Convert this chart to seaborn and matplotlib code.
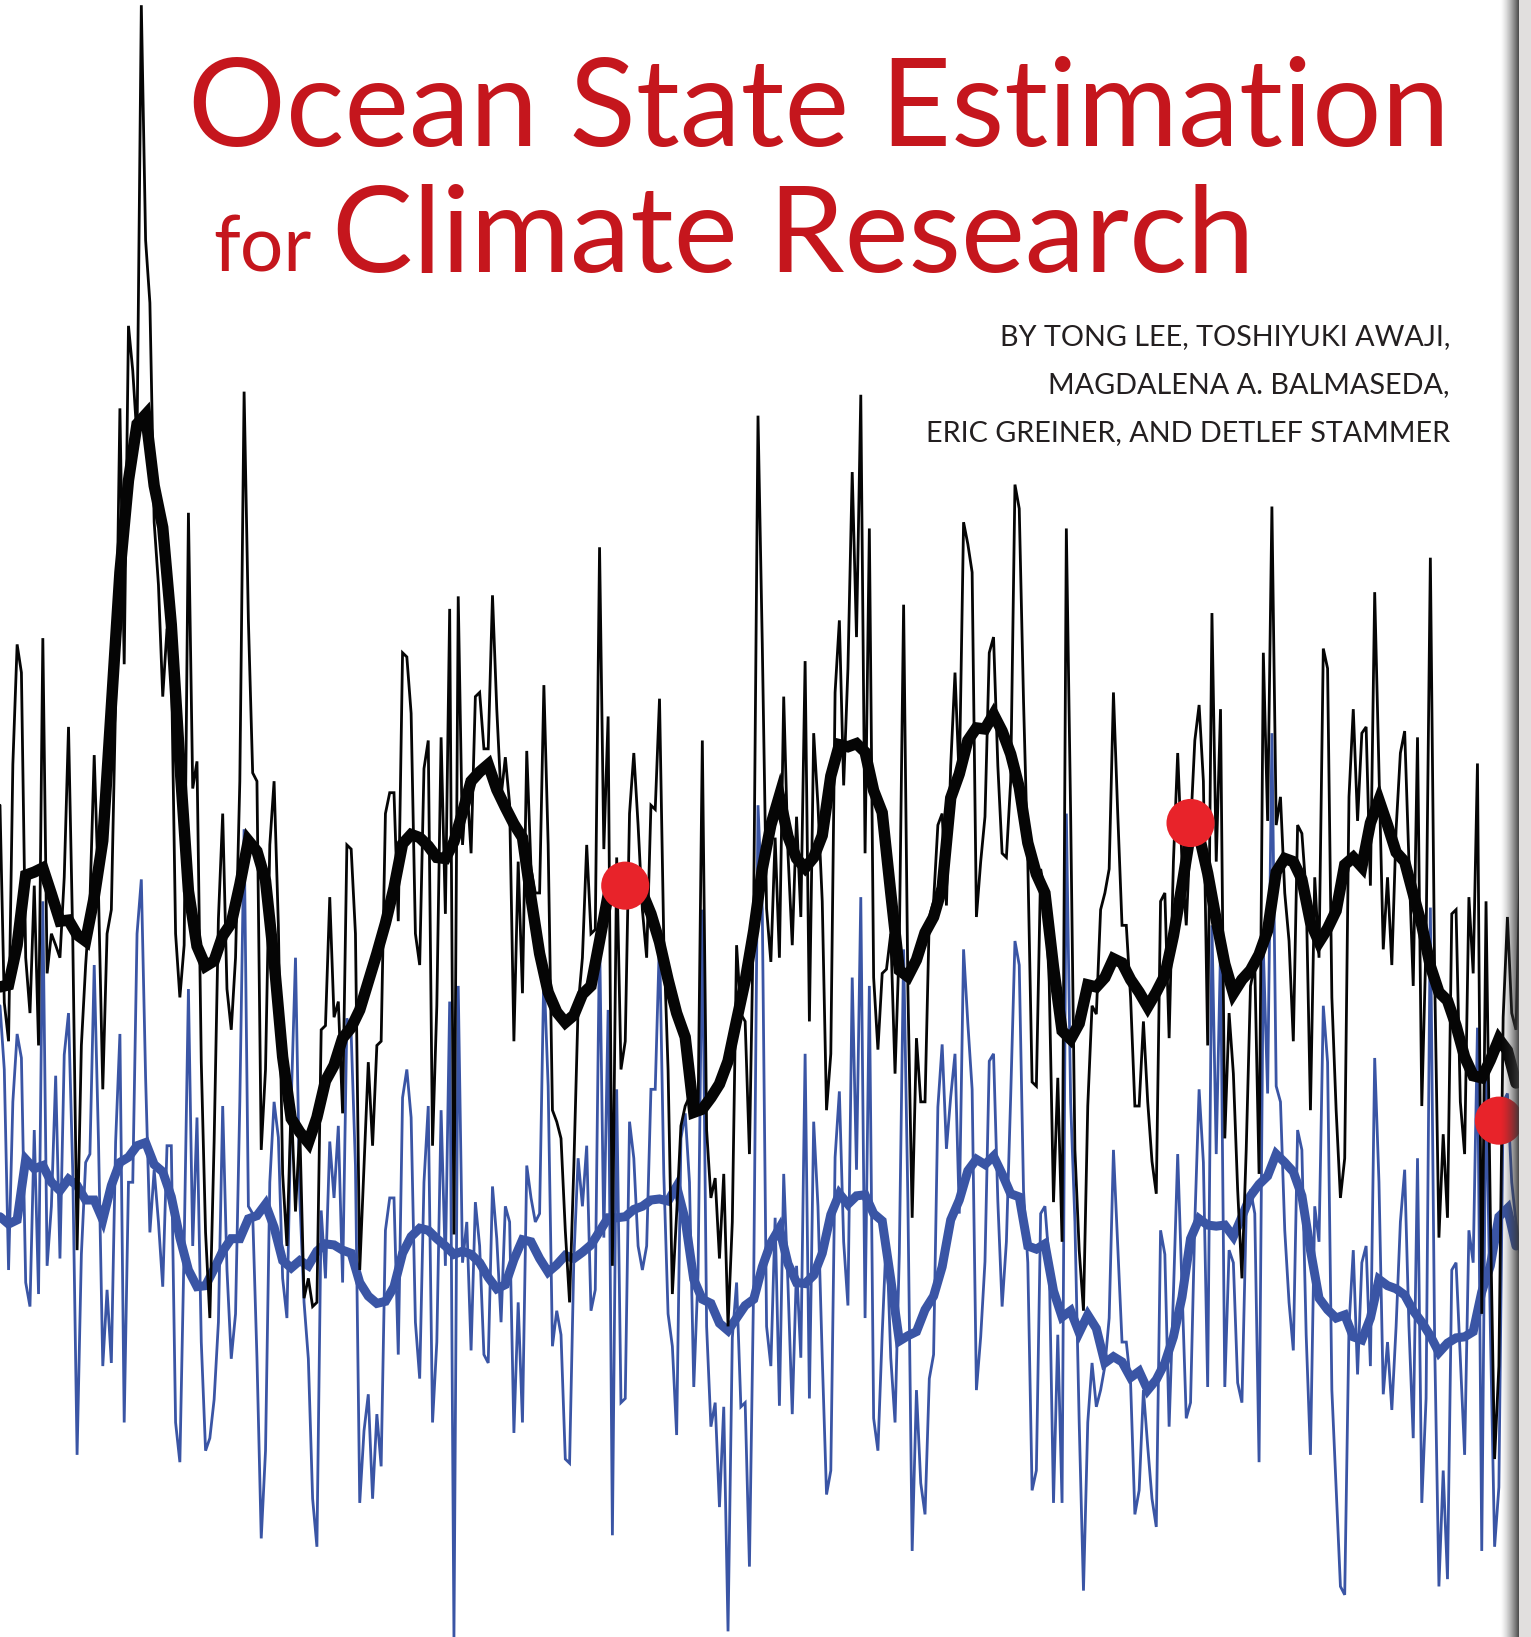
import numpy as np
import pandas as pd
import matplotlib
matplotlib.use("Agg")
import matplotlib.pyplot as plt
import seaborn as sns

# ---------------- data (monthly anomalies, arbitrary units) ----------------
thin_black = [
    229, 40, 3, 268, 383, 356, 83, 30, 152, -1,
    389, 68, 106, 95, 83, 160, 304, 99, -197, -1,
    76, 137, 277, 145, -43, 106, 129, 329, 609, 364,
    688, 645, 580, 995, 770, 710, 500, 440, 333, 398,
    370, 106, 45, 95, 509, 245, 271, -17, -180, -262,
    -93, 120, 221, 53, 14, 83, 252, 625, 406, 260,
    252, -101, -24, 191, 252, 114, -124, -193, -55, -160,
    -80, -243, -224, -251, -247, 14, 18, 141, 26, 41,
    -66, 191, 187, 106, -216, -116, -17, -97, -1, 3,
    221, 241, 241, 118, 375, 371, 317, 106, 76, 264,
    291, -97, 37, 294, 125, 417, -182, 429, 191, 252,
    183, 333, 337, 283, 283, 430, 321, 237, 275, 230,
    3, 175, 49, 281, 168, 145, 145, 344, 191, -63,
    -74, -90, -178, -247, -116, 37, 83, 191, 106, 110,
    476, 187, 314, -212, 179, -24, 3, 221, 279, 210,
    129, 83, 229, 225, 331, 99, -24, -239, -162, -78,
    -59, -50, -43, -66, 291, -82, -147, -128, -205, -124,
    -270, -170, 95, 29, 22, -105, 137, 602, 383, 130,
    79, 198, 83, 333, 183, 95, 218, 122, 367, 22,
    298, 229, 137, -63, -9, 337, 406, 248, 360, 548,
    390, 622, 183, 494, 64, -5, 68, 72, 106, -28,
    99, 421, 53, -166, 6, -55, -55, 122, 137, 210,
    221, 133, 267, 356, 252, 500, 479, 452, 122, 175,
    218, 375, 390, 267, 183, 179, 252, 536, 513, 329,
    175, -36, -40, 168, 145, 60, -151, -32, -189, 494,
    221, -101, -197, -255, -59, 37, 29, 129, 145, 168,
    337, 221, 114, 114, 45, -59, -59, 22, -55, -112,
    -143, 137, 145, 6, 175, 279, 175, 114, 206, 291,
    325, 252, -1, 413, 175, 321, -90, 30, -28, -139,
    -224, -101, 56, 76, -124, 375, 214, 515, 210, 237,
    145, 99, 3, 210, 202, 145, -63, 160, 83, 379,
    360, 45, -63, -147, -109, 237, 321, 214, 298, 304,
    152, 433, 260, 91, 160, 76, 206, 279, 300, 175,
    56, 294, -59, 99, 466, 68, -185, -86, -166, 125,
    129, -55, -105, 141, 68, 269, -258, 137, -162, -397,
    -308, 26, 122, 30, 14, 175,
]

thin_blue = [
    37, -24, -216, -55, 10, -13, -228, -251, -82, -239,
    137, -212, -155, -30, -205, -10, 30, -124, -393, -201,
    -113, -105, 76, -93, -308, -235, -305, -93, 10, -362,
    -132, -132, 106, 158, -32, -180, -120, -170, -232, -97,
    -97, -362, -400, -193, 53, -193, -70, -285, -389, -377,
    -340, -266, -59, -216, -301, -258, -55, 206, -155, -162,
    -300, -473, -389, -132, -55, -89, -224, -262, -55, 83,
    -147, -247, -301, -435, -481, -159, -224, -93, -147, -78,
    -228, 25, 10, -116, -439, -370, -335, -435, -354, -404,
    -178, -147, -147, -297, -51, -24, -70, -266, -320, -132,
    -59, -362, -285, -63, -212, 41, -568, 56, -209, -170,
    -293, -151, -193, -297, -305, -136, -186, -266, -155, -170,
    -372, -247, -362, -116, -147, -170, -162, 72, -40, -289,
    -255, -278, -397, -401, -205, -109, -155, -97, -255, -235,
    106, -185, 33, -470, -43, -343, -339, -74, -109, -193,
    -216, -193, -43, -43, 102, -124, -258, -289, -374, -90,
    -66, -132, -328, -220, 129, -270, -366, -343, -443, -347,
    -562, -281, -228, -347, -343, -500, -224, 229, 129, -270,
    -308, -166, -346, -124, -230, -354, -212, -300, -9, -339,
    -74, -155, -300, -431, -408, -108, -45, -189, -250, 64,
    -120, 141, -262, 56, -358, -389, -277, -180, -300, -362,
    -200, 91, -150, -485, -331, -420, -450, -320, -297, -60,
    0, -100, -50, -9, -162, 91, 20, -43, -331, -280,
    -208, -16, -9, -150, -251, -189, -50, 99, 76, -140,
    -209, -427, -408, -162, -155, -209, -439, -278, -439, 221,
    -55, -170, -362, -523, -362, -305, -347, -331, -308, -262,
    -101, -193, -285, -285, -324, -450, -427, -331, -385, -435,
    -462, -178, -201, -366, -239, -105, -232, -358, -343, -170,
    -43, -113, -328, 114, -105, 91, -328, -197, -209, -324,
    -343, -162, -139, -162, -400, 91, -47, 298, -40, -55,
    -178, -247, -293, -82, -101, -278, -393, -155, -189, 37,
    -17, -331, -424, -519, -527, -270, -197, -316, -209, -193,
    -308, -13, -132, -335, -285, -350, -270, -170, -120, -270,
    -377, -109, -439, -339, 131, -285, -519, -408, -512, -216,
    -209, -301, -393, -178, -209, 16, -485, -24, -270, -481,
    -424, -55, -47, -132, -170, -200,
]

# smoothed series, one value every second month
smooth_black = [
    55, 57, 95, 162, 165, 169, 144, 118, 119, 105,
    99, 141, 195, 323, 452, 540, 594, 603, 535, 495,
    402, 269, 147, 94, 75, 80, 104, 116, 153, 195,
    185, 157, 80, -12, -71, -84, -94, -70, -35, -20,
    6, 16, 33, 60, 87, 116, 150, 192, 201, 198,
    190, 179, 178, 194, 222, 252, 261, 268, 244, 227,
    211, 198, 140, 87, 50, 31, 21, 28, 48, 56,
    99, 143, 160, 153, 152, 145, 125, 98, 62, 30,
    7, -65, -62, -51, -38, -16, 23, 61, 109, 168,
    210, 238, 199, 178, 169, 179, 200, 257, 287, 285,
    288, 280, 243, 222, 145, 71, 65, 81, 107, 122,
    150, 236, 259, 291, 303, 302, 316, 300, 278, 246,
    193, 163, 145, 74, 13, 5, 20, 57, 55, 64,
    82, 78, 62, 50, 36, 50, 66, 104, 152, 203,
    200, 164, 119, 77, 49, 62, 71, 86, 109, 165,
    178, 175, 158, 117, 98, 111, 128, 172, 179, 170,
    212, 234, 210, 184, 175, 144, 114, 75, 50, 42,
    18, -12, -30, -32, -15, 5, -6, -37,
]

smooth_blue = [
    -165, -172, -168, -110, -119, -116, -132, -140, -129, -135,
    -149, -149, -168, -135, -113, -108, -97, -94, -115, -122,
    -146, -185, -216, -232, -231, -215, -198, -186, -186, -167,
    -164, -153, -175, -207, -214, -207, -212, -198, -191, -192,
    -197, -200, -228, -241, -248, -246, -232, -200, -184, -176,
    -178, -186, -193, -201, -198, -201, -209, -223, -234, -230,
    -206, -187, -189, -205, -218, -211, -202, -205, -199, -192,
    -179, -166, -166, -165, -158, -155, -149, -148, -150, -136,
    -168, -225, -244, -248, -267, -274, -262, -250, -244, -213,
    -190, -176, -210, -228, -229, -221, -200, -163, -143, -153,
    -145, -144, -162, -169, -225, -284, -279, -275, -254, -241,
    -213, -168, -149, -121, -110, -115, -107, -124, -143, -146,
    -193, -196, -191, -236, -261, -255, -276, -259, -272, -305,
    -299, -304, -319, -313, -331, -321, -305, -280, -242, -186,
    -167, -173, -174, -173, -184, -165, -145, -134, -126, -105,
    -113, -122, -145, -197, -243, -254, -262, -259, -280, -283,
    -262, -225, -231, -234, -240, -255, -266, -279, -295, -286,
    -281, -280, -275, -237, -212, -165, -157, -193,
]

highlight_month = [146, 278, 350]
highlight_value = [152, 212, -73]

title_line1 = "Ocean State Estimation"
title_small = "for"
title_line2 = "Climate Research"
authors = [
    "BY TONG LEE, TOSHIYUKI AWAJI,",
    "MAGDALENA A. BALMASEDA,",
    "ERIC GREINER, AND DETLEF STAMMER",
]

# ---------------- tables ----------------
raw = pd.DataFrame({
    "month": np.arange(len(thin_black)),
    "black": thin_black,
    "blue": thin_blue,
})
smooth = pd.DataFrame({
    "month": np.arange(len(smooth_black)) * 2,
    "black": smooth_black,
    "blue": smooth_blue,
})
dots = pd.DataFrame({"month": highlight_month, "value": highlight_value})

# ---------------- figure ----------------
sns.set_theme(style="white")
plt.rcParams["font.family"] = ["Lato", "DejaVu Sans"]

W, H = 1531, 1637
fig = plt.figure(figsize=(W / 100, H / 100), dpi=100)
fig.patch.set_facecolor("white")
ax = fig.add_axes([0, 0, 1, 1])
ax.set_facecolor("white")

BLUE = "#3a55a5"
BLACK = "#050505"
RED = "#e8232a"
TITLE_RED = "#c5161d"

sns.lineplot(data=raw, x="month", y="blue", ax=ax, color=BLUE,
             linewidth=2.0, zorder=1, legend=False,
             solid_joinstyle="miter")
sns.lineplot(data=smooth, x="month", y="blue", ax=ax, color=BLUE,
             linewidth=6.5, zorder=2, legend=False,
             solid_joinstyle="miter")
sns.lineplot(data=raw, x="month", y="black", ax=ax, color=BLACK,
             linewidth=2.0, zorder=3, legend=False,
             solid_joinstyle="miter")
sns.lineplot(data=smooth, x="month", y="black", ax=ax, color=BLACK,
             linewidth=8.2, zorder=4, legend=False,
             solid_joinstyle="miter")
sns.scatterplot(data=dots, x="month", y="value", ax=ax, color=RED,
                s=1200, edgecolor="none", linewidth=0, zorder=5, legend=False)

ax.set_xlim(0, 357.5)
ax.set_ylim(-567.4, 1000)
ax.set_axis_off()

# ---------------- page-edge shadow ----------------
sx0 = 1486
n = W - sx0
cols = sx0 + np.arange(n) + 0.5
rgba = np.zeros((1, n, 4))
for i, c in enumerate(cols):
    if c < 1500:
        rgba[0, i] = (1, 1, 1, 0)
    elif c < 1519:
        f = (c - 1500) / 19.0
        rgba[0, i] = (0.22, 0.22, 0.22, 0.92 * f ** 1.5)
    else:
        rgba[0, i] = (0.886, 0.875, 0.871, 1)
ax_sh = fig.add_axes([sx0 / W, 0, n / W, 1])
ax_sh.imshow(rgba, aspect="auto", interpolation="nearest", extent=(0, 1, 0, 1))
ax_sh.set_axis_off()
ax_sh.set_zorder(10)

# ---------------- texts ----------------
renderer = fig.canvas.get_renderer()


def fit(t, target):
    bb = t.get_window_extent(renderer=renderer)
    t.set_fontsize(t.get_fontsize() * target / bb.width)


def ftext(x, y, s, **kw):
    return fig.text(x / W, 1 - y / H, s, va="baseline", **kw)


t1 = ftext(188, 146, title_line1, color=TITLE_RED, fontsize=80, ha="left")
fit(t1, 1262)
t2 = ftext(213, 272, title_small, color=TITLE_RED, fontsize=50, ha="left")
fit(t2, 98)
t3 = ftext(332, 272, title_line2, color=TITLE_RED, fontsize=80, ha="left")
fit(t3, 923)

auth_y = [345, 393, 441]
ats = [ftext(1450, y, s, color="#231f20", fontsize=16, ha="right")
       for y, s in zip(auth_y, authors)]
bb = ats[2].get_window_extent(renderer=renderer)
size = 16 * 525 / bb.width
for a in ats:
    a.set_fontsize(size)

fig.savefig("out.png", dpi=100, facecolor="white")
